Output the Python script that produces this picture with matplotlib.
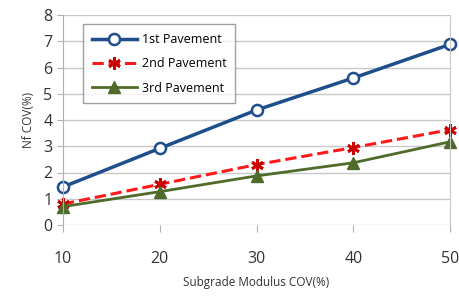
import matplotlib.pyplot as plt

cov = [10, 20, 30, 40, 50]
first = [1.45, 2.92, 4.38, 5.6, 6.88]
second = [0.8, 1.55, 2.3, 2.95, 3.63]
third = [0.7, 1.27, 1.87, 2.37, 3.17]

plt.rcParams['font.family'] = ['Open Sans', 'DejaVu Sans']

fig = plt.figure(figsize=(4.59, 2.97), dpi=100)
ax = fig.add_axes([63 / 459, 1 - 225 / 297, 387 / 459, 210 / 297])

ax.plot(cov, first, '-o', color='#1f4e8c', lw=2.5, ms=8, mfc='white',
        mec='#1f4e8c', mew=1.8, label='1st Pavement')
ax.plot(cov, second, '--', marker=(6, 2, 0), color='#ff1a1a', lw=2.2, ms=9,
        mec='#cc0000', mew=2, label='2nd Pavement')
ax.plot(cov, third, '-^', color='#4f6b2a', lw=2, ms=8, mfc='#4f6b2a',
        mec='#4f6b2a', label='3rd Pavement')

ax.set_xlim(10, 50)
ax.set_ylim(0, 8)
ax.set_xticks(cov)
ax.set_yticks(range(9))
ax.grid(axis='y', color='#c8c8c8', lw=1)
ax.set_axisbelow(True)
for s in ['top', 'bottom']:
    ax.spines[s].set_visible(False)
ax.spines['left'].set_color('#b0b0b0')
ax.spines['right'].set_color('#c8c8c8')
ax.tick_params(axis='x', length=5, color='#b0b0b0', pad=14, labelsize=11.5, labelcolor='#333333')
ax.tick_params(axis='y', length=4, color='#b0b0b0', labelsize=11.5, labelcolor='#333333')
for line in ax.lines:
    line.set_clip_on(False)

ax.set_xlabel('Subgrade Modulus COV(%)', fontsize=8.5, color='#333333', labelpad=6)
ax.set_ylabel('Nf COV(%)', fontsize=8.5, color='#333333', labelpad=6)

leg = ax.legend(loc='upper left', bbox_to_anchor=(0.035, 0.985), fontsize=9,
                frameon=True, fancybox=False, edgecolor='#888888',
                handlelength=3.6, labelspacing=0.9, borderpad=0.7,
                handletextpad=0.4)
leg.get_frame().set_linewidth(1)

fig.savefig('out.png', dpi=100)
